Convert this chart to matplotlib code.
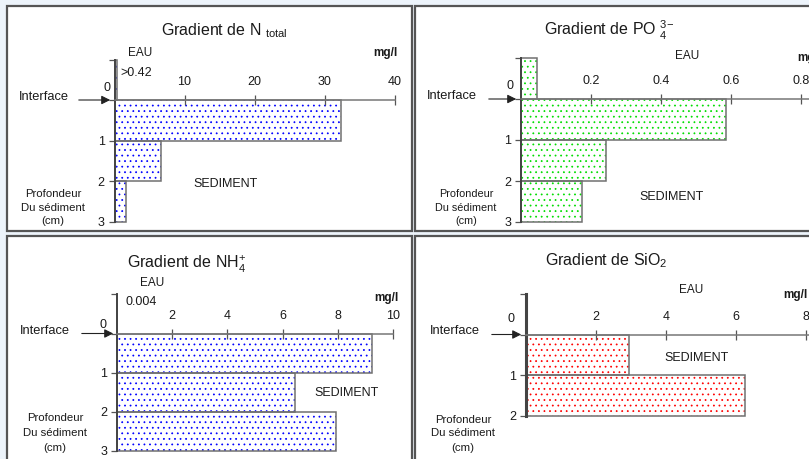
import matplotlib.pyplot as plt
from matplotlib.patches import Rectangle, FancyArrowPatch
from matplotlib.transforms import Affine2D

plt.rcParams['font.family'] = ['Liberation Sans', 'DejaVu Sans']
plt.rcParams['mathtext.fontset'] = 'custom'
plt.rcParams['mathtext.rm'] = 'Liberation Sans'
plt.rcParams['mathtext.it'] = 'Liberation Sans:italic'
plt.rcParams['hatch.linewidth'] = 0.55

W, H = 809, 459

# ---- data (mg/l per 1 cm layer of sediment, plus the water value) ----
layers = [0.5, 1.5, 2.5]          # middle of each cm layer
ntot_sed = [32.4, 6.7, 1.6]
ntot_eau = 0.42
po4_sed = [0.586, 0.242, 0.175]
po4_eau = 0.045
nh4_sed = [9.23, 6.45, 7.92]
nh4_eau = 0.004
sio2_sed = [2.95, 6.27]

ntot_ticks = [10, 20, 30, 40]
po4_ticks = [0.2, 0.4, 0.6, 0.8]
nh4_ticks = [2, 4, 6, 8, 10]
sio2_ticks = [2, 4, 6, 8]

TXT = '#1a1a1a'
EDGE = '#707070'
HATCH = '...'

fig = plt.figure(figsize=(W / 100, H / 100), dpi=100)
fig.patch.set_facecolor('#edf4fb')
# pixel coords, origin top-left
px = Affine2D().scale(1 / W, -1 / H).translate(0, 1) + fig.transFigure


def frame(x0, y0, x1, y1):
    fig.patches.append(Rectangle((x0, y0), x1 - x0, y1 - y0, transform=px, zorder=-5,
                                 facecolor='white', edgecolor='#555555', lw=1.6))


def t(x, y, s, size=8.5, **kw):
    kw.setdefault('ha', 'center')
    kw.setdefault('va', 'center')
    fig.text(x, y, s, transform=px, fontsize=size, color=TXT, **kw)


def make_axes(region, origin, sx, sy, ticks, xend, ybot, ax_lw=1.4):
    l, tp, r, b = region
    ox, oy = origin
    ax = fig.add_axes([l / W, 1 - b / H, (r - l) / W, (b - tp) / H])
    ax.patch.set_alpha(0)
    ax.set_xlim((l - ox) / sx, (r - ox) / sx)
    ax.set_ylim((b - oy) / sy, (tp - oy) / sy)
    ax.spines['right'].set_visible(False)
    ax.spines['bottom'].set_visible(False)
    ax.spines['top'].set_position(('data', 0))
    ax.spines['top'].set_bounds(0, xend)
    ax.spines['top'].set_color('#777777')
    ax.spines['top'].set_linewidth(1.1)
    ax.spines['left'].set_position(('data', 0))
    ax.spines['left'].set_bounds(ybot, -1)
    ax.spines['left'].set_color('#444444')
    ax.spines['left'].set_linewidth(ax_lw)
    ax.xaxis.tick_top()
    ax.set_xticks(ticks, [f'{v:g}' for v in ticks])
    ax.tick_params(axis='x', direction='inout', length=7, width=0.9,
                   color='#555555', pad=5, labelsize=9, labelcolor=TXT)
    yt = list(range(-1, ybot + 1))
    ax.set_yticks(yt, ['' if v < 1 else str(v) for v in yt])
    ax.tick_params(axis='y', direction='out', length=4, width=0.9,
                   color='#555555', pad=3, labelsize=9, labelcolor=TXT)
    return ax


def bars(ax, vals, eau, color):
    ys = layers[:len(vals)]
    ax.barh(ys, vals, height=1, color='white', edgecolor=color, lw=0, hatch=HATCH)
    ax.barh(ys, vals, height=1, fill=False, edgecolor=EDGE, lw=1.1)
    if eau is not None:
        ax.barh([-0.5], [eau], height=1, color='white', edgecolor=color, lw=0, hatch=HATCH)
        ax.barh([-0.5], [eau], height=1, fill=False, edgecolor=EDGE, lw=1.1)


def interface(x_txt, y_txt, x0, x1, y, size=9.3):
    t(x_txt, y_txt, 'Interface', size=size)
    fig.add_artist(FancyArrowPatch((x0, y), (x1, y), transform=px, arrowstyle='-|>',
                                   mutation_scale=13, color='#222222', lw=0.8))


def profondeur(x, ys, size=8.2):
    for yy, s in zip(ys, ['Profondeur', 'Du sédiment', '(cm)']):
        t(x, yy, s, size=size)


# ---- panel frames ----
frame(7, 6, 412, 231)
frame(415, 6, 830, 231)
frame(7, 236, 412, 480)
frame(415, 236, 830, 480)

# ---- N total ----
ax1 = make_axes((9, 8, 410, 229), (114.5, 100), 7.0, 40.5, ntot_ticks, 40, 3)
bars(ax1, ntot_sed, ntot_eau, '#0000ff')
t(224, 31, r'Gradient de N $_{\rm total}$', size=11.5)
t(140, 53, 'EAU')
t(136, 73, '>%g' % ntot_eau, size=9)
t(385, 53, 'mg/l', fontweight='bold')
t(107, 88, '0', size=9)
t(226, 184, 'SEDIMENT', size=9)
interface(44, 97, 76, 113, 100)
profondeur(53, [194, 208, 221])

# ---- PO4 ----
ax2 = make_axes((417, 8, 809, 229), (521, 99), 350.0, 41.0, po4_ticks, 0.9, 3)
bars(ax2, po4_sed, po4_eau, '#00dd00')
t(609, 30, r'Gradient de PO $_4^{3\!-}$', size=11.5)
t(687, 56, 'EAU')
t(797, 58, 'mg/l', fontweight='bold', ha='left')
t(510, 86, '0', size=9)
t(672, 197, 'SEDIMENT', size=9)
interface(452, 96, 486, 519, 99)
profondeur(466, [194, 208, 221], size=7.8)

# ---- NH4 ----
ax3 = make_axes((9, 238, 410, 459), (117, 333.5), 27.6, 39.1, nh4_ticks, 10, 3)
bars(ax3, nh4_sed, nh4_eau, '#0000ff')
t(187, 264, r'Gradient de NH$_4^{+}$', size=11.5)
t(152, 283, 'EAU')
t(141, 302, '%g' % nh4_eau, size=9)
t(386, 298, 'mg/l', fontweight='bold')
t(103, 325, '0', size=9)
t(347, 393, 'SEDIMENT', size=9)
interface(45, 331, 79, 116, 333.5)
profondeur(55, [418, 433, 448])

# ---- SiO2 ----
ax4 = make_axes((417, 238, 809, 459), (526, 334.5), 35.0, 40.7, sio2_ticks, 8.5, 2, ax_lw=2.2)
bars(ax4, sio2_sed, None, '#ff0000')
t(606, 261, r'Gradient de SiO$_2$', size=11.5)
t(691, 290, 'EAU')
t(783, 295, 'mg/l', fontweight='bold', ha='left')
t(511, 319, '0', size=9)
t(697, 358, 'SEDIMENT', size=9)
interface(455, 331, 489, 524, 334.5)
profondeur(463, [420, 433, 448])

fig.savefig('out.png', dpi=100, facecolor=fig.get_facecolor())
